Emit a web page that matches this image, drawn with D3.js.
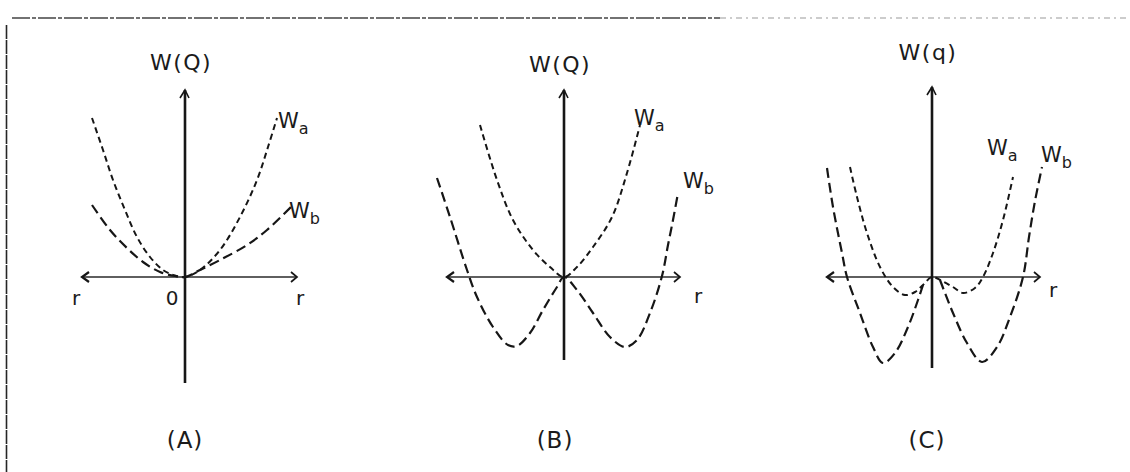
<!DOCTYPE html>
<html>
<head>
<meta charset="utf-8">
<script src="https://cdn.jsdelivr.net/npm/d3@7"></script>
<style>
  html, body { margin: 0; padding: 0; background: #fff; }
  svg { display: block; }
  text { font-family: "DejaVu Sans", "Liberation Sans", sans-serif; fill: #1b1b1b; }
</style>
</head>
<body>
<svg id="chart" width="1130" height="472"></svg>
<script>
// ---- Data: potential curves W(r) for three cases, as [r, W] pairs ----
const panelIds = ["A", "B", "C"];
const panelTitles = ["W(Q)", "W(Q)", "W(q)"];
const panelCaptions = ["(A)", "(B)", "(C)"];

// Case A: both curves rise from the origin
const waA = [[-9.3, 15.9], [-8.2, 12.7], [-7.2, 9.7], [-6.0, 6.7], [-4.8, 4.0], [-3.5, 2.0], [-2.2, 0.7], [-1.0, 0.15], [0, 0],
             [1.5, 0.7], [3.5, 2.7], [5.5, 6.0], [7.2, 9.7], [8.3, 13.0], [9.2, 15.9]];
const wbA = [[-9.3, 7.2], [-7.5, 4.7], [-5.8, 2.9], [-4.2, 1.5], [-2.5, 0.5], [-1.0, 0.1], [0, 0],
             [1.5, 0.7], [3.5, 1.7], [6.2, 3.2], [8.2, 4.7], [10.8, 7.2]];

// Case B: W_a rises, W_b has a double well
const waB = [[-8.4, 15.2], [-6.7, 9.7], [-5.1, 5.7], [-3.1, 2.7], [-1.4, 1.0], [0, 0],
             [1.3, 1.0], [2.9, 3.0], [4.8, 6.0], [6.3, 10.4], [7.6, 15.2]];
const wbB = [[-12.7, 9.9], [-11.4, 6.0], [-9.7, 0.7], [-8.7, -2.0], [-7.1, -5.0], [-5.6, -6.8], [-4.7, -6.9],
             [-3.4, -5.6], [-2.1, -3.3], [-0.7, -1.0], [0, 0],
             [1.3, -1.3], [2.9, -3.6], [4.6, -6.0], [6.1, -7.0], [7.3, -6.3], [8.6, -3.6], [9.8, 0.1],
             [10.4, 3.2], [10.9, 5.7], [11.4, 8.4]];

// Case C: both curves have double wells, W_b much deeper
const waC = [[-8.2, 11.0], [-7.5, 8.0], [-6.5, 4.4], [-5.2, 1.0], [-3.9, -1.0], [-2.7, -1.8], [-1.7, -1.5], [-0.9, -0.8], [0, 0],
             [1.0, -0.4], [2.1, -1.0], [3.1, -1.6], [4.3, -1.1], [5.1, 0], [6.1, 2.4], [7.1, 5.7], [8.1, 10.0]];
const wbCLeft = [[-10.5, 10.9], [-9.9, 7.0], [-9.0, 2.4], [-8.5, 0], [-7.2, -3.6], [-5.9, -7.0], [-4.9, -8.6],
                 [-3.7, -7.6], [-2.4, -5.0], [-1.4, -2.3], [-0.9, -0.8]];
const wbCRight = [[0.8, -0.3], [2.1, -3.6], [3.5, -6.6], [5.0, -8.5], [6.5, -7.0], [7.8, -4.0], [9.1, 0.0],
                  [9.7, 4.0], [10.3, 7.6], [11.0, 11.0]];

// Axis extents per panel: [rMin, rMax] and [Wmin, Wmax]
const axisR = [[-10.3, 11.2], [-11.7, 11.6], [-10.5, 10.8]];
const axisW = [[-10.6, 18.7], [-8.3, 18.7], [-9.1, 19.0]];

const curvesByPanel = [
  [{ pts: waA, kind: "a" }, { pts: wbA, kind: "b" }],
  [{ pts: waB, kind: "a" }, { pts: wbB, kind: "b" }],
  [{ pts: waC, kind: "a" }, { pts: wbCLeft, kind: "b" }, { pts: wbCRight, kind: "b" }]
];

// ---- Layout ----
const svg = d3.select("#chart");
const origins = [[185, 277], [564, 277], [932, 277]];
const unit = 10; // pixels per unit in r and W

const ink = "#161616";
const dashFor = { a: "6,4", b: "10,5" };

// page frame: ruled top edge and left edge
svg.append("line").attr("x1", 12).attr("x2", 720).attr("y1", 18).attr("y2", 18)
  .attr("stroke", "#444").attr("stroke-width", 1.3).attr("stroke-dasharray", "18,2,4,2");
svg.append("line").attr("x1", 720).attr("x2", 1130).attr("y1", 18).attr("y2", 18)
  .attr("stroke", "#999").attr("stroke-width", 1).attr("stroke-dasharray", "6,4,2,4");
svg.append("line").attr("x1", 6.5).attr("x2", 6.5).attr("y1", 25).attr("y2", 472)
  .attr("stroke", "#262626").attr("stroke-width", 1.6).attr("stroke-dasharray", "14,1");

panelIds.forEach((id, i) => {
  const [ox, oy] = origins[i];
  const x = d3.scaleLinear().domain([0, 1]).range([ox, ox + unit]);
  const y = d3.scaleLinear().domain([0, 1]).range([oy, oy - unit]);
  const g = svg.append("g").attr("class", "panel-" + id);

  const [r0, r1] = axisR[i];
  const [w0, w1] = axisW[i];

  // horizontal r axis with arrowheads at both ends
  g.append("line")
    .attr("x1", x(r0)).attr("x2", x(r1)).attr("y1", y(0)).attr("y2", y(0))
    .attr("stroke", "#2a2a2a").attr("stroke-width", 1.6);
  g.append("path")
    .attr("d", `M${x(r0) + 7},${y(0) - 5} L${x(r0)},${y(0)} L${x(r0) + 7},${y(0) + 5}`)
    .attr("fill", "none").attr("stroke", ink).attr("stroke-width", 2.2);
  g.append("path")
    .attr("d", `M${x(r1) - 6},${y(0) - 5} L${x(r1)},${y(0)} L${x(r1) - 6},${y(0) + 5}`)
    .attr("fill", "none").attr("stroke", ink).attr("stroke-width", 1.7);

  // vertical W axis with arrowhead on top
  g.append("line")
    .attr("x1", x(0)).attr("x2", x(0)).attr("y1", y(w1)).attr("y2", y(w0))
    .attr("stroke", ink).attr("stroke-width", 2.6);
  g.append("path")
    .attr("d", `M${x(0) - 5},${y(w1) + 8} L${x(0)},${y(w1)} L${x(0) + 4},${y(w1) + 8}`)
    .attr("fill", "none").attr("stroke", ink).attr("stroke-width", 1.6);

  // curves
  const line = d3.line().x(d => x(d[0])).y(d => y(d[1])).curve(d3.curveCatmullRom.alpha(0.5));
  curvesByPanel[i].forEach(c => {
    g.append("path")
      .attr("d", line(c.pts))
      .attr("fill", "none")
      .attr("stroke", ink)
      .attr("stroke-width", c.kind === "a" ? 2 : 2.2)
      .attr("stroke-dasharray", dashFor[c.kind]);
  });

  // axis title and caption
  g.append("text").attr("x", x(0) - 4).attr("y", [70, 72, 60][i])
    .attr("text-anchor", "middle").attr("font-size", 22).attr("letter-spacing", 1.5)
    .text(panelTitles[i]);
  g.append("text").attr("x", [x(0), x(-0.9), x(-0.5)][i]).attr("y", 448)
    .attr("text-anchor", "middle").attr("font-size", 23).attr("letter-spacing", 1)
    .text(panelCaptions[i]);
});

// curve labels W_a and W_b with subscripts
function subLabel(px, py, sub) {
  const t = svg.append("text").attr("x", px).attr("y", py).attr("font-size", 21);
  t.append("tspan").text("W");
  t.append("tspan").attr("dy", 6).attr("font-size", 16).text(sub);
}
subLabel(278, 128, "a");
subLabel(289, 218, "b");
subLabel(634, 125, "a");
subLabel(683, 188, "b");
subLabel(987, 155, "a");
subLabel(1041, 162, "b");

// r labels and origin mark
function plain(px, py, s) {
  svg.append("text").attr("x", px).attr("y", py).attr("text-anchor", "middle")
    .attr("font-size", 20).text(s);
}
plain(76, 305, "r");
plain(172, 305, "0");
plain(300, 305, "r");
plain(698, 303, "r");
plain(1053, 297, "r");
</script>
</body>
</html>
